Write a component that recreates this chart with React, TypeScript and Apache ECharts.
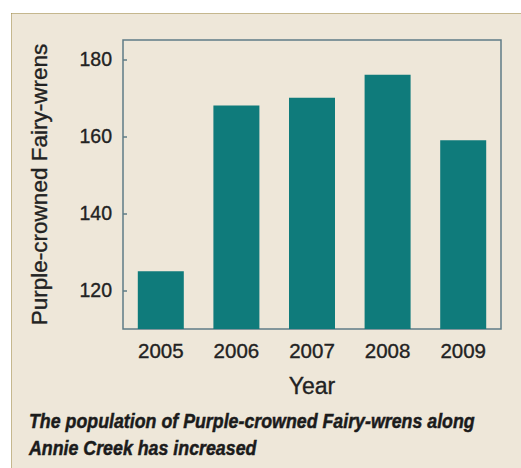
import { useEffect, useRef } from "react";
import * as echarts from "echarts";

// Purple-crowned Fairy-wren counts along Annie Creek, by survey year
const years = ["2005", "2006", "2007", "2008", "2009"];
const wrens = [125, 168, 170, 176, 159];
const yTicks = [120, 140, 160, 180];
const yMin = 110;
const yMax = 185;
const captionLines = [
  "The population of Purple-crowned Fairy-wrens along",
  "Annie Creek has increased",
];

const INK = "#222222";
const FRAME = "#5f7c86";
const TEAL = "#0f7b7b";
const CREAM = "#eee7d9";
const SANS = '"Liberation Sans", Arial, sans-serif';

const CAPTION_SIZE = 20.5;
const CAPTION_WIDTH = 446; // condensed width of the first caption line

// Squeeze the bold italic caption into a condensed look
function captionScale(): number {
  const ctx = document.createElement("canvas").getContext("2d");
  if (!ctx) return 0.85;
  ctx.font = `italic bold ${CAPTION_SIZE}px "Liberation Sans"`;
  const w = ctx.measureText(captionLines[0]).width;
  return w > 0 ? CAPTION_WIDTH / w : 0.85;
}

// slightly heavier strokes for axis texts
const heavy = { textBorderColor: INK, textBorderWidth: 0.35 };

export default function App() {
  const ref = useRef<HTMLDivElement>(null);

  useEffect(() => {
    document.body.style.margin = "0";
    const chart = echarts.init(ref.current!, null, { renderer: "svg" });
    chart.setOption({
      animation: false,
      backgroundColor: CREAM,
      graphic: [
        // white page outside the boxed panel
        { type: "rect", silent: true, shape: { x: 0, y: 0, width: 521, height: 13 }, style: { fill: "#ffffff" } },
        { type: "rect", silent: true, shape: { x: 0, y: 0, width: 11, height: 468 }, style: { fill: "#ffffff" } },
        // dotted panel edge
        {
          type: "line",
          silent: true,
          shape: { x1: 11.5, y1: 13.5, x2: 521, y2: 13.5 },
          style: { stroke: "#9c8642", lineWidth: 1, lineDash: [1, 1] },
        },
        {
          type: "line",
          silent: true,
          shape: { x1: 11.5, y1: 13.5, x2: 11.5, y2: 468 },
          style: { stroke: "#9c8642", lineWidth: 1, lineDash: [1, 1] },
        },
        {
          type: "text",
          silent: true,
          x: 29,
          y: 408,
          scaleX: captionScale(),
          style: {
            text: captionLines.join("\n"),
            fill: "#1b1b1b",
            stroke: "#1b1b1b",
            lineWidth: 0.5,
            fontFamily: SANS,
            fontWeight: "bold",
            fontStyle: "italic",
            fontSize: CAPTION_SIZE,
            lineHeight: 26.5,
            verticalAlign: "top",
          },
        },
      ],
      grid: {
        left: 123,
        top: 40,
        width: 378,
        height: 289,
        show: true,
        borderColor: FRAME,
        borderWidth: 1.5,
        backgroundColor: "transparent",
      },
      xAxis: {
        type: "category",
        data: years,
        axisLine: { show: false },
        axisTick: { show: false },
        axisLabel: {
          color: INK,
          fontFamily: SANS,
          fontSize: 20.5,
          margin: 11,
          ...heavy,
        },
        name: "Year",
        nameLocation: "middle",
        nameGap: 45,
        nameTextStyle: {
          color: INK,
          fontFamily: SANS,
          fontSize: 23,
          ...heavy,
        },
      },
      yAxis: {
        type: "value",
        min: yMin,
        max: yMax,
        splitLine: { show: false },
        axisLine: { show: false },
        axisTick: {
          show: true,
          inside: true,
          length: 4,
          customValues: yTicks,
          lineStyle: { color: FRAME, width: 1.5 },
        },
        axisLabel: {
          customValues: yTicks,
          color: INK,
          fontFamily: SANS,
          fontSize: 19.5,
          margin: 11,
          ...heavy,
        },
        name: "Purple-crowned Fairy-wrens",
        nameLocation: "middle",
        nameGap: 72,
        nameTextStyle: {
          color: INK,
          fontFamily: SANS,
          fontSize: 22.5,
          ...heavy,
        },
      },
      series: [
        {
          type: "bar",
          data: wrens,
          barWidth: 46,
          itemStyle: { color: TEAL },
        },
      ],
    });
    return () => chart.dispose();
  }, []);

  return (
    <div
      ref={ref}
      style={{ position: "absolute", left: 0, top: 0, width: 521, height: 468 }}
    />
  );
}
